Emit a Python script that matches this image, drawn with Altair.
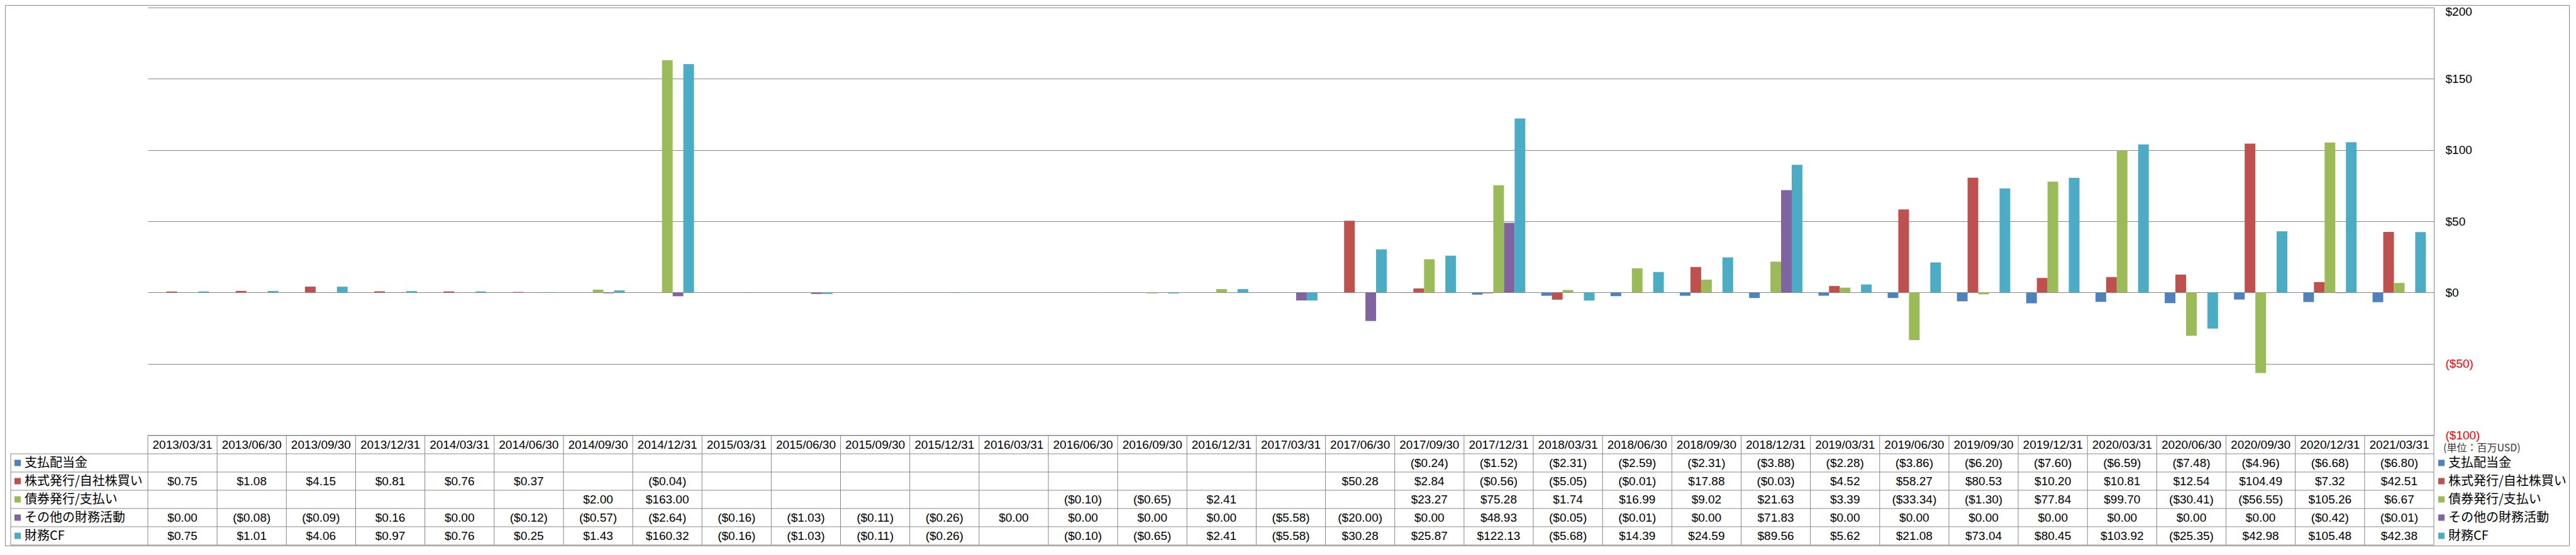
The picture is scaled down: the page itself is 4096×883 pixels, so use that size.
import altair as alt
import pandas as pd

# ---------------- data ----------------
dates = ["2013/03/31", "2013/06/30", "2013/09/30", "2013/12/31", "2014/03/31", "2014/06/30",
         "2014/09/30", "2014/12/31", "2015/03/31", "2015/06/30", "2015/09/30", "2015/12/31",
         "2016/03/31", "2016/06/30", "2016/09/30", "2016/12/31", "2017/03/31", "2017/06/30",
         "2017/09/30", "2017/12/31", "2018/03/31", "2018/06/30", "2018/09/30", "2018/12/31",
         "2019/03/31", "2019/06/30", "2019/09/30", "2019/12/31", "2020/03/31", "2020/06/30",
         "2020/09/30", "2020/12/31", "2021/03/31"]

series = ["支払配当金", "株式発行/自社株買い", "債券発行/支払い", "その他の財務活動", "財務CF"]
colors = ["#4F81BD", "#C0504D", "#9BBB59", "#8064A2", "#4BACC6"]

dividends = [None] * 18 + [-0.24, -1.52, -2.31, -2.59, -2.31, -3.88, -2.28, -3.86, -6.20,
                           -7.60, -6.59, -7.48, -4.96, -6.68, -6.80]
stock = [0.75, 1.08, 4.15, 0.81, 0.76, 0.37, None, -0.04] + [None] * 9 + \
        [50.28, 2.84, -0.56, -5.05, -0.01, 17.88, -0.03, 4.52, 58.27, 80.53, 10.20, 10.81,
         12.54, 104.49, 7.32, 42.51]
bonds = [None] * 6 + [2.00, 163.00] + [None] * 5 + [-0.10, -0.65, 2.41, None, None] + \
        [23.27, 75.28, 1.74, 16.99, 9.02, 21.63, 3.39, -33.34, -1.30, 77.84, 99.70, -30.41,
         -56.55, 105.26, 6.67]
other = [0.00, -0.08, -0.09, 0.16, 0.00, -0.12, -0.57, -2.64, -0.16, -1.03, -0.11, -0.26,
         0.00, 0.00, 0.00, 0.00, -5.58, -20.00, 0.00, 48.93, -0.05, -0.01, 0.00, 71.83,
         0.00, 0.00, 0.00, 0.00, 0.00, 0.00, 0.00, -0.42, -0.01]
cf = [0.75, 1.01, 4.06, 0.97, 0.76, 0.25, 1.43, 160.32, -0.16, -1.03, -0.11, -0.26, None,
      -0.10, -0.65, 2.41, -5.58, 30.28, 25.87, 122.13, -5.68, 14.39, 24.59, 89.56, 5.62,
      21.08, 73.04, 80.45, 103.92, -25.35, 42.98, 105.48, 42.38]

y_ticks = [-100, -50, 0, 50, 100, 150, 200]
unit_label = "(単位：百万USD)"


def fmt(v):
    if v is None:
        return ""
    if v < 0:
        return "(${:.2f})".format(-v)
    return "${:.2f}".format(v)


records = []
for s, vals in zip(series, [dividends, stock, bonds, other, cf]):
    for d, v in zip(dates, vals):
        records.append({"date": d, "series": s, "value": v, "label": fmt(v)})
df = pd.DataFrame(records)

# ---------------- layout ----------------
FONT = "Liberation Sans"
CJK = "Noto Sans CJK JP"
GRID = "#888888"
W, H = 3635, 680
PAD = {"left": 227, "top": 4, "right": 216, "bottom": 177}

HEAD_TOP, HEAD_BOT = 681, 710
TABLE_BOT = 855
row_lines = [710, 739, 768, 797, 826, 855]
LABEL_LEFT = -218

x_enc = alt.X("date:N", scale=alt.Scale(domain=dates, paddingInner=0, paddingOuter=0), axis=None)
row_scale = alt.Scale(type="point", domain=series, range=[HEAD_BOT, TABLE_BOT], padding=0.5)
color_enc = alt.Color("series:N", scale=alt.Scale(domain=series, range=colors), legend=None)

base = alt.Chart(df)

bars = base.mark_bar().encode(
    x=x_enc,
    xOffset=alt.XOffset("series:N", scale=alt.Scale(domain=series, paddingInner=0, paddingOuter=0.75)),
    y=alt.Y("value:Q",
            scale=alt.Scale(domain=[-100, 200], nice=False),
            axis=alt.Axis(orient="right", values=y_ticks, grid=True, gridColor=GRID, gridWidth=1,
                          domain=True, domainColor=GRID, domainWidth=1, ticks=False,
                          labelPadding=18, labelAlign="left", labelBaseline="middle",
                          labelFont=FONT, labelFontSize=19, labelFlush=False,
                          labelOverlap=False, labelBound=False,
                          labelOffset=alt.ExprRef(expr="datum.value == 200 ? 6 : 0"),
                          labelExpr="datum.value < 0 ? '($' + abs(datum.value) + ')' : '$' + datum.value",
                          labelColor=alt.ExprRef(expr="datum.value < 0 ? '#FF0000' : '#000000'"),
                          title=None)),
    color=color_enc,
)

date_df = pd.DataFrame({"date": dates})
header = alt.Chart(date_df).mark_text(font=FONT, fontSize=19, color="black").encode(
    x=x_enc, y=alt.value((HEAD_TOP + HEAD_BOT) / 2), text="date:N")

cells = base.mark_text(font=FONT, fontSize=19, color="black").encode(
    x=x_enc, y=alt.Y("series:N", scale=row_scale, axis=None), text="label:N")

vrules = alt.Chart(date_df).mark_rule(color=GRID, strokeWidth=1).encode(
    x=alt.X("date:N", bandPosition=0, scale=alt.Scale(domain=dates, paddingInner=0, paddingOuter=0), axis=None),
    y=alt.value(HEAD_TOP), y2=alt.value(TABLE_BOT))
vrule_end = alt.Chart(pd.DataFrame({"date": [dates[-1]]})).mark_rule(color=GRID, strokeWidth=1).encode(
    x=alt.X("date:N", bandPosition=1, scale=alt.Scale(domain=dates, paddingInner=0, paddingOuter=0), axis=None),
    y=alt.value(HEAD_TOP), y2=alt.value(TABLE_BOT))

one = pd.DataFrame({"a": [0]})
hrules = [alt.Chart(one).mark_rule(color=GRID, strokeWidth=1).encode(
    x=alt.value(0), x2=alt.value(W), y=alt.value(HEAD_TOP))]
for yy in row_lines:
    hrules.append(alt.Chart(one).mark_rule(color=GRID, strokeWidth=1).encode(
        x=alt.value(LABEL_LEFT), x2=alt.value(W), y=alt.value(yy)))
left_line = alt.Chart(one).mark_rule(color=GRID, strokeWidth=1).encode(
    x=alt.value(LABEL_LEFT), y=alt.value(HEAD_BOT), y2=alt.value(TABLE_BOT))

ser_df = pd.DataFrame({"series": series})
y_rows = alt.Y("series:N", scale=row_scale, axis=None)
sq_left = alt.Chart(ser_df).mark_square(size=100, opacity=1).encode(
    x=alt.value(-207), y=y_rows, color=color_enc)
txt_left = alt.Chart(ser_df).mark_text(font=CJK, fontSize=20, align="left", color="black").encode(
    x=alt.value(-196), y=y_rows, text="series:N")
sq_right = alt.Chart(ser_df).mark_square(size=100, opacity=1).encode(
    x=alt.value(3647), y=y_rows, color=color_enc)
txt_right = alt.Chart(ser_df).mark_text(font=CJK, fontSize=20, align="left", color="black").encode(
    x=alt.value(3658), y=y_rows, text="series:N")

unit = alt.Chart(pd.DataFrame({"t": [unit_label]})).mark_text(
    font=CJK, fontSize=16, align="left", color="#333333").encode(
    x=alt.value(3650), y=alt.value(701), text="t:N")

border = alt.Chart(one).mark_rect(filled=False, stroke=GRID, strokeWidth=1).encode(
    x=alt.value(-PAD["left"] + 0.5), x2=alt.value(W + PAD["right"] - 0.5),
    y=alt.value(-PAD["top"] + 0.5), y2=alt.value(H + PAD["bottom"] - 0.5))

chart = alt.layer(
    border, bars, header, cells, vrules, vrule_end, *hrules, left_line,
    sq_left, txt_left, sq_right, txt_right, unit
).resolve_scale(y="independent").properties(
    width=W, height=H,
    autosize=alt.AutoSizeParams(type="none"),
    padding=PAD,
).configure_view(stroke=None)

chart.save("out.html", embed_options={"renderer": "svg", "actions": False})
